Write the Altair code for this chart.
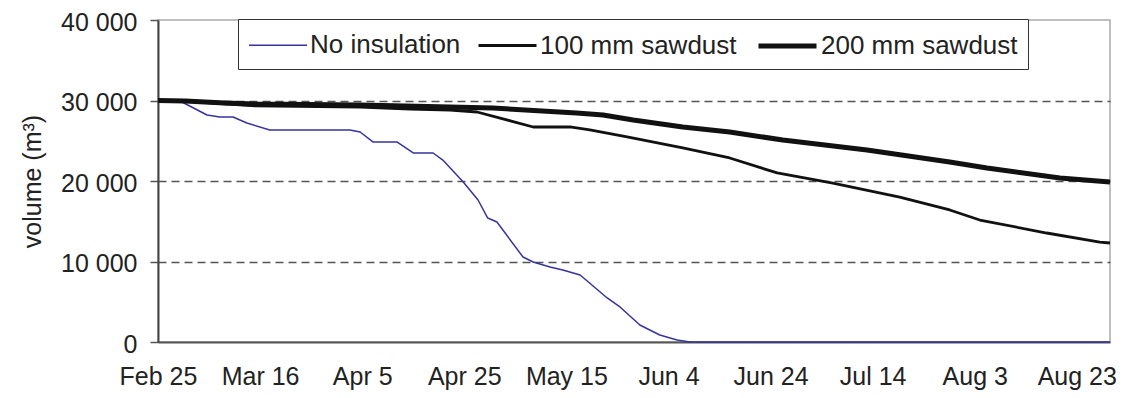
import altair as alt
import pandas as pd

# Series names (legend order)
series_names = ["No insulation", "100 mm sawdust", "200 mm sawdust"]
series_colors = ["#34349c", "#111111", "#111111"]
series_widths = [1.5, 2.8, 5]

# x = days after Feb 25 (leap year, ticks every 20 days)
tick_days = [0, 20, 40, 60, 80, 100, 120, 140, 160, 180]
tick_labels = ["Feb 25", "Mar 16", "Apr 5", "Apr 25", "May 15",
               "Jun 4", "Jun 24", "Jul 14", "Aug 3", "Aug 23"]
y_ticks = [0, 10000, 20000, 30000, 40000]

days_none = [0, 4.7, 9.6, 12.1, 14.7, 17.4, 21.9, 37.6, 39.6, 42.1, 46.8, 50.0,
             53.9, 55.8, 59.8, 62.7, 64.6, 66.4, 71.5, 73.5, 76.8, 79.3, 82.7,
             88.0, 90.5, 94.4, 98.3, 101.7, 104.2, 186.5]
vol_none = [30000, 29810, 28200, 27950, 27950, 27200, 26340, 26340, 26090, 24850,
            24850, 23480, 23480, 22600, 19880, 17640, 15400, 14900, 10560, 9940,
            9320, 8940, 8320, 5470, 4350, 2110, 870, 250, 0, 0]

days_100 = [0, 4.9, 13.1, 19.0, 39.6, 49.4, 57.2, 62.5, 73.5, 80.7, 84.6, 91.9,
            102.8, 112.0, 121.3, 132.2, 145.3, 155.1, 161.0, 174.1, 184.5, 186.5]
vol_100 = [30000, 29940, 29570, 29320, 29190, 28940, 28820, 28570, 26710, 26710,
           26340, 25470, 24100, 22860, 21000, 19750, 18010, 16400, 15150, 13540,
           12420, 12300]

days_200 = [0, 5.3, 13.1, 19.0, 39.6, 57.2, 65.6, 82.0, 87.2, 93.1, 102.8, 112.0,
            122.4, 138.9, 155.1, 162.4, 176.7, 186.5]
vol_200 = [30000, 29940, 29690, 29570, 29440, 29190, 29070, 28450, 28200, 27580,
           26710, 26090, 25090, 23850, 22360, 21610, 20370, 19880]

rows = []
for name, dd, vv in [(series_names[0], days_none, vol_none),
                     (series_names[1], days_100, vol_100),
                     (series_names[2], days_200, vol_200)]:
    for d, v in zip(dd, vv):
        rows.append({"series": name, "day": d, "volume": v})
df = pd.DataFrame(rows)

FONT = "Liberation Sans"
TXT = "#222222"

label_js = "[" + ",".join("'" + t + "'" for t in tick_labels) + "]"

chart = alt.Chart(df).mark_line(strokeJoin="round").encode(
    x=alt.X("day:Q",
            scale=alt.Scale(domain=[0, 186.5], nice=False, zero=False),
            axis=alt.Axis(values=tick_days, title=None, grid=False, ticks=False,
                          labelExpr=label_js + "[round(datum.value/20)]",
                          labelFontSize=25, labelFont=FONT, labelColor=TXT,
                          labelPadding=22, domainColor="#555555", domainWidth=2,
                          labelFlush=False)),
    y=alt.Y("volume:Q",
            scale=alt.Scale(domain=[0, 40000], nice=False),
            axis=alt.Axis(values=y_ticks, title="volume (m³)",
                          labelExpr="replace(format(datum.value, ','), ',', ' ')",
                          labelFontSize=25, labelFont=FONT, labelColor=TXT,
                          labelPadding=13, labelOffset=2, tickSize=8,
                          tickColor="#555555", tickWidth=1.5,
                          domainColor="#444444", domainWidth=2,
                          titleFontSize=25, titleFont=FONT, titleColor=TXT,
                          titleFontWeight="normal", titlePadding=15,
                          grid=True, gridColor="#555555", gridDash=[8, 5], gridWidth=1.5,
                          gridOpacity={"condition": {"test": "datum.value === 0 || datum.value === 40000",
                                                     "value": 0}, "value": 1})),
    color=alt.Color("series:N", sort=series_names,
                    scale=alt.Scale(domain=series_names, range=series_colors),
                    title=None),
    strokeWidth=alt.StrokeWidth("series:N", sort=series_names,
                                scale=alt.Scale(type="ordinal", domain=series_names,
                                                range=series_widths),
                                title=None),
).properties(
    width=952, height=322,
    autosize=alt.AutoSizeParams(type="none"),
    padding={"left": 150, "top": 12, "right": 8, "bottom": 52},
).configure_view(
    stroke="#aaaaaa", strokeWidth=1.5
).configure_legend(
    orient="none", legendX=80, legendY=-1, direction="horizontal",
    fillColor="white", strokeColor="#333333", padding=10, cornerRadius=0,
    symbolType="M-1,0H3", symbolSize=841, labelFontSize=26, labelFont=FONT,
    labelColor=TXT, labelOffset=31, columnPadding=11, labelLimit=400
)

chart.save("out.html", embed_options={"renderer": "svg", "actions": False})
